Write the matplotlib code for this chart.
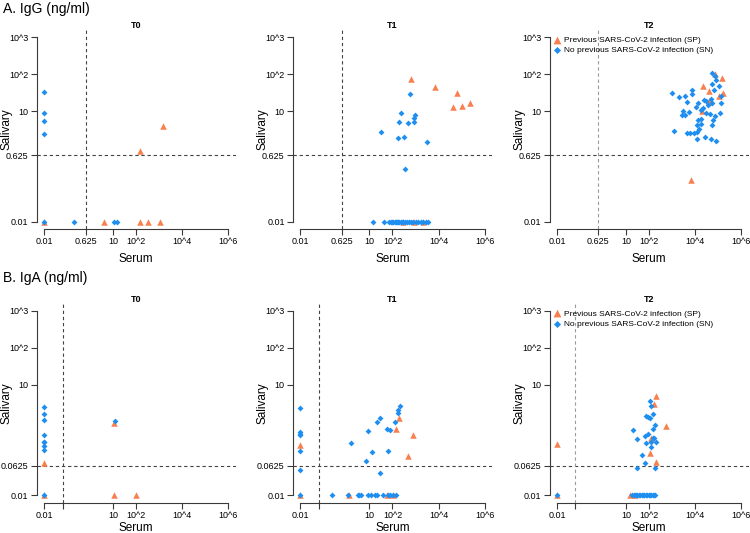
import numpy as np
import matplotlib
matplotlib.use("Agg")
import matplotlib.pyplot as plt

plt.rcParams["font.family"] = ["Liberation Sans", "DejaVu Sans"]

# ---- IgG (row A) ----
igg_t0_sp_serum = [0.01, 4, 138, 316, 1050, 148, 1400]
igg_t0_sp_saliva = [0.01, 0.01, 0.01, 0.01, 0.01, 0.85, 4.0]
igg_t0_sn_serum = [0.01, 0.2, 11, 14, 0.01, 0.01, 0.01, 0.01]
igg_t0_sn_saliva = [0.01, 0.01, 0.01, 0.01, 33.6, 8.7, 5.4, 2.45]

igg_t1_sp_serum = [660, 6900, 66000, 44500, 100000, 222000, 275, 890, 2200]
igg_t1_sp_saliva = [75, 46, 30.5, 13.2, 14, 16.3, 0.01, 0.01, 0.01]
igg_t1_sn_serum = [575, 227, 927, 890, 186, 490, 830, 30.6, 169, 327, 3280, 339,
                   14.6, 43, 72, 85, 100, 110, 125, 140, 160, 180, 200, 230, 260,
                   300, 350, 420, 500, 650, 800, 1000, 1300, 1700, 2200, 2800, 3600]
igg_t1_sn_saliva = [28.7, 8.7, 8.0, 6.4, 5.1, 4.8, 5.0, 2.64, 1.85, 1.93, 1.47, 0.26,
                    0.01, 0.01, 0.01, 0.01, 0.01, 0.01, 0.01, 0.01, 0.01, 0.01, 0.01,
                    0.01, 0.01, 0.01, 0.01, 0.01, 0.01, 0.01, 0.01, 0.01, 0.01, 0.01,
                    0.01, 0.01, 0.01]

igg_t2_sp_serum = [70300, 151000, 21900, 41200, 168000, 112000, 38500, 41700, 19000, 6600]
igg_t2_sp_saliva = [102, 78, 49, 36, 30.5, 26.3, 19.2, 17.8, 10.3, 0.133]
igg_t2_sn_serum = [53700, 75900, 81300, 53700, 112000, 7200, 67600, 1035, 2040, 3590,
                   7240, 4270, 23400, 13200, 30500, 49000, 133000, 56200, 34700, 10800,
                   21900, 133000, 3020, 5500, 2570, 3800, 17800, 30500, 45700, 70800,
                   124000, 60300, 53700, 12700, 18600, 12000, 17400, 15100, 12000, 1230,
                   4370, 5890, 8900, 11500, 27500, 46800, 81300]
igg_t2_sn_saliva = [111, 90, 70, 55, 48, 37.6, 37.6, 30.5, 23.8, 25.8,
                    29.2, 18, 20, 17, 19.2, 21, 25.8, 16.3, 14.7, 13.2,
                    11.9, 17, 10.3, 9.3, 8.0, 8.0, 10.7, 8.7, 8.3, 7.4,
                    8.7, 5.7, 4.1, 5.7, 6.0, 4.2, 4.4, 3.2, 2.75, 2.9,
                    2.58, 2.58, 2.58, 1.8, 1.93, 1.8, 1.56]

# ---- IgA (row B) ----
iga_t0_sp_serum = [0.01, 0.01, 10.7, 11, 102]
iga_t0_sp_saliva = [0.076, 0.01, 0.91, 0.01, 0.01]
iga_t0_sn_serum = [0.01, 0.01, 0.01, 0.01, 0.01, 0.01, 0.01, 0.01, 11.8, 0.01]
iga_t0_sn_saliva = [2.47, 1.63, 1.12, 0.436, 0.28, 0.27, 0.21, 0.166, 1.0, 0.01]

iga_t1_sp_serum = [0.01, 0.01, 195, 148, 800, 460, 1.35, 56, 110]
iga_t1_sp_saliva = [0.233, 0.01, 1.24, 0.62, 0.42, 0.115, 0.01, 0.01, 0.01]
iga_t1_sn_serum = [0.01, 0.01, 0.01, 0.01, 0.01, 0.01, 0.01, 214, 174, 174, 29, 21.5,
                   129, 56, 79, 8.7, 1.6, 12.6, 63, 7.4, 29,
                   0.23, 1.12, 3.2, 3.6, 4.2, 8.7, 11.8, 17.6, 22, 38, 65, 79, 107, 145]
iga_t1_sn_saliva = [2.38, 0.53, 0.47, 0.43, 0.153, 0.047, 0.01, 2.58, 2.0, 1.74, 1.27, 0.95,
                    0.96, 0.62, 0.57, 0.54, 0.253, 0.144, 0.153, 0.083, 0.039,
                    0.01, 0.01, 0.01, 0.01, 0.01, 0.01, 0.01, 0.01, 0.01, 0.01, 0.01,
                    0.01, 0.01, 0.01]

iga_t2_sp_serum = [0.01, 0.01, 194, 158, 525, 122, 106, 194, 15.5, 25]
iga_t2_sp_saliva = [0.25, 0.01, 5.0, 3.05, 0.75, 0.347, 0.135, 0.080, 0.01, 0.01]
iga_t2_sn_serum = [114, 126, 149, 71, 87, 106, 182, 19.4, 149, 65, 91, 144, 165, 30, 76,
                   122, 194, 122, 51, 67, 31, 175, 0.01,
                   18, 22, 26, 30, 35, 40, 47, 55, 63, 72, 82, 95, 110, 125, 145, 165, 186]
iga_t2_sn_saliva = [3.6, 2.58, 1.56, 1.40, 1.29, 1.27, 0.78, 0.60, 0.61, 0.41, 0.45, 0.36,
                    0.347, 0.325, 0.264, 0.275, 0.275, 0.197, 0.121, 0.073, 0.056, 0.056, 0.01,
                    0.01, 0.01, 0.01, 0.01, 0.01, 0.01, 0.01, 0.01, 0.01, 0.01, 0.01, 0.01,
                    0.01, 0.01, 0.01, 0.01, 0.01]

timepoints = ["T0", "T1", "T2"]
igg_cutoff = 0.625
iga_cutoff = 0.0625

igg_xticks = [0.01, 0.625, 10, 100, 1e4, 1e6]
igg_xlabels = ["0.01", "0.625", "10", "10^2", "10^4", "10^6"]
igg_yticks = [0.01, 0.625, 10, 100, 1000]
igg_ylabels = ["0.01", "0.625", "10", "10^2", "10^3"]
iga_xticks = [0.01, 0.0625, 10, 100, 1e4, 1e6]
iga_xlabels = ["0.01", "", "10", "10^2", "10^4", "10^6"]
iga_yticks = [0.01, 0.0625, 10, 100, 1000]
iga_ylabels = ["0.01", "0.0625", "10", "10^2", "10^3"]

sp_color = "#F8804F"
sn_color = "#1E8FF0"
axis_color = "#3a3a3a"

rows = [
    dict(data=[(igg_t0_sp_serum, igg_t0_sp_saliva, igg_t0_sn_serum, igg_t0_sn_saliva),
               (igg_t1_sp_serum, igg_t1_sp_saliva, igg_t1_sn_serum, igg_t1_sn_saliva),
               (igg_t2_sp_serum, igg_t2_sp_saliva, igg_t2_sn_serum, igg_t2_sn_saliva)],
         cutoff=igg_cutoff, xt=igg_xticks, xl=igg_xlabels, yt=igg_yticks, yl=igg_ylabels,
         bottom=304 / 533, title="A. IgG (ng/ml)", title_y=1 - 9 / 533, xlab_y=-0.15),
    dict(data=[(iga_t0_sp_serum, iga_t0_sp_saliva, iga_t0_sn_serum, iga_t0_sn_saliva),
               (iga_t1_sp_serum, iga_t1_sp_saliva, iga_t1_sn_serum, iga_t1_sn_saliva),
               (iga_t2_sp_serum, iga_t2_sp_saliva, iga_t2_sn_serum, iga_t2_sn_saliva)],
         cutoff=iga_cutoff, xt=iga_xticks, xl=iga_xlabels, yt=iga_yticks, yl=iga_ylabels,
         bottom=30.5 / 533, title="B. IgA (ng/ml)", title_y=1 - 278 / 533, xlab_y=-0.126),
]
lefts = [36.8 / 750, 293.0 / 750, 549.6 / 750]
w, h = 199 / 750, 199 / 533

fig = plt.figure(figsize=(7.5, 5.33), dpi=100)

for row in rows:
    fig.text(3 / 750, row["title_y"], row["title"], fontsize=10, va="center", ha="left")
    for i, (sp_x, sp_y, sn_x, sn_y) in enumerate(row["data"]):
        ax = fig.add_axes([lefts[i], row["bottom"], w, h])
        ax.set_xscale("log")
        ax.set_yscale("log")
        ax.set_xlim(10 ** -2.32, 10 ** 6.32)
        ax.set_ylim(10 ** -2.2, 10 ** 3.2)

        vcol = "#9a9a9a" if i == 2 else "#444444"
        ax.axhline(row["cutoff"], color="#444444", lw=0.8, ls=(0, (3, 2.5)), zorder=1)
        ax.axvline(row["cutoff"], color=vcol, lw=0.8, ls=(0, (3, 2.5)), zorder=1)

        ax.scatter(sp_x, sp_y, marker="^", s=22, color=sp_color, linewidths=0,
                   zorder=3, clip_on=False, label="Previous SARS-CoV-2 infection (SP)")
        ax.scatter(sn_x, sn_y, marker="D", s=9, color=sn_color, linewidths=0,
                   zorder=4, clip_on=False, label="No previous SARS-CoV-2 infection (SN)")

        for s in ["top", "right"]:
            ax.spines[s].set_visible(False)
        ax.spines["left"].set_bounds(0.01, 1000)
        ax.spines["bottom"].set_bounds(0.01, 1e6)
        for s in ["left", "bottom"]:
            ax.spines[s].set_color(axis_color)
            ax.spines[s].set_linewidth(0.8)

        ax.set_xticks(row["xt"])
        ax.set_xticklabels(row["xl"])
        ax.set_yticks(row["yt"])
        ax.set_yticklabels(row["yl"])
        ax.minorticks_off()
        ax.tick_params(axis="both", length=4.5, width=0.8, color=axis_color,
                       labelsize=6.5, pad=1.5)

        ax.set_title(timepoints[i], fontsize=6.5, fontweight="bold", pad=1)
        ax.set_xlabel("Serum", fontsize=8.5)
        ax.set_ylabel("Salivary", fontsize=8.5)
        ax.xaxis.label.set_va("center")
        ax.yaxis.label.set_va("center")
        ax.xaxis.set_label_coords(0.5, row["xlab_y"])
        ax.yaxis.set_label_coords(-0.151, 0.5)

        if i == 2:
            ax.legend(loc="upper left", bbox_to_anchor=(0.0, 0.985), frameon=False,
                      fontsize=6, borderaxespad=0.2, borderpad=0.2, handlelength=1.0,
                      handletextpad=0.3, labelspacing=0.3, markerscale=1.2)

fig.savefig("out.png", dpi=100)
